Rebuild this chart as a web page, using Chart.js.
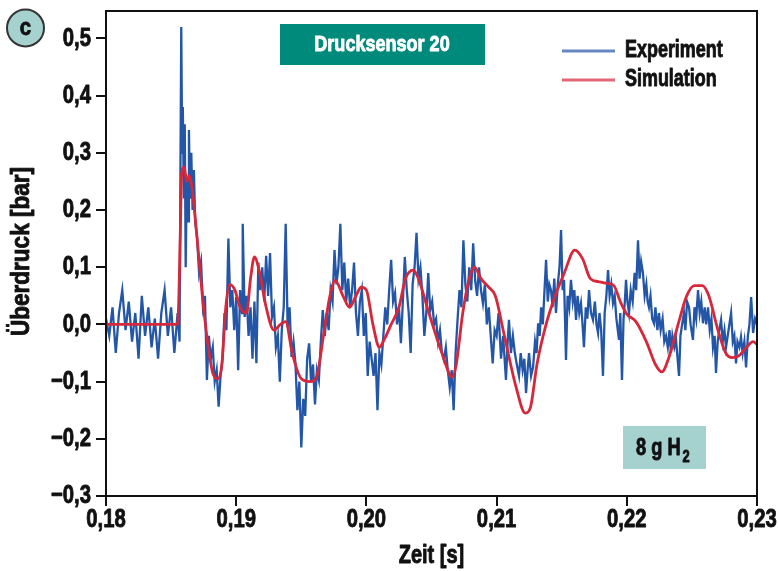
<!DOCTYPE html>
<html lang="de">
<head>
<meta charset="UTF-8">
<title>Drucksensor 20</title>
<script src="https://cdn.jsdelivr.net/npm/chart.js@4"></script>
<style>
  html, body { margin: 0; padding: 0; background: #fff; }
  #wrap { position: relative; width: 778px; height: 571px; }
</style>
</head>
<body>
<div id="wrap"><canvas id="chart"></canvas></div>
<script>
const FONT = '"Liberation Sans", Arial, sans-serif';

const xTicks = [0.18, 0.19, 0.20, 0.21, 0.22, 0.23];
const yTicks = [-0.3, -0.2, -0.1, 0, 0.1, 0.2, 0.3, 0.4, 0.5];
const seriesNames = ['Experiment', 'Simulation'];
const panelLabel = 'c';
const sensorLabel = 'Drucksensor 20';
const xTitle = 'Zeit [s]';
const yTitle = 'Überdruck [bar]';

// [time s, overpressure bar]
const experimentSamples = [
  [0.18,0.01],[0.18025,-0.02],[0.1805,0.03],[0.18075,-0.05],[0.181,0.02],[0.18125,0.06],[0.1815,-0.01],[0.18175,0.04],[0.182,-0.03],[0.18225,0.02],
  [0.1825,-0.06],[0.18275,0.05],[0.183,-0.02],[0.18325,0.03],[0.1835,-0.04],[0.18375,0.01],[0.184,-0.06],[0.18425,0.02],[0.1845,0.06],[0.18475,-0.02],
  [0.185,0.03],[0.18525,-0.05],[0.1855,0.02],[0.18565,-0.03],[0.1857,0.2],[0.18578,0.52],[0.18585,0.3],[0.1859,0.38],[0.18598,0.22],[0.18605,0.35],
  [0.18612,0.1],[0.1862,0.25],[0.1863,0.18],[0.18637,0.34],[0.18645,0.22],[0.18655,0.3],[0.18665,0.2],[0.18675,0.27],[0.18685,0.18],[0.187,0.15],
  [0.18715,0.09],[0.1873,0.11],[0.18745,0.03],[0.1876,0.05],[0.18775,-0.097],[0.1879,-0.02],[0.18805,-0.06],[0.1882,-0.04],[0.18835,-0.1],[0.1885,-0.08],
  [0.18865,-0.144],[0.1888,-0.09],[0.18895,-0.06],[0.1891,0.02],[0.18925,-0.01],[0.1894,0.15],[0.18955,0.03],[0.1897,0.06],[0.18985,-0.01],[0.19,0.048],
  [0.19015,-0.08],[0.1903,0.06],[0.19045,0.02],[0.1905,0.176],[0.19065,0.013],[0.1908,0.05],[0.19095,-0.02],[0.1911,0.03],[0.19125,-0.06],[0.1914,0.04],
  [0.19155,-0.068],[0.1917,0.108],[0.19185,0.06],[0.192,0.1],[0.19215,0.04],[0.1923,0.12],[0.19245,0.05],[0.1926,0.125],[0.19275,0.013],[0.1929,0.03],
  [0.19305,-0.04],[0.1932,-0.02],[0.19335,-0.1],[0.1935,-0.01],[0.19365,0.03],[0.1938,0.176],[0.19395,-0.005],[0.1941,0.03],[0.19425,-0.057],[0.1944,-0.03],
  [0.19455,-0.068],[0.1947,-0.15],[0.19485,-0.1],[0.195,-0.215],[0.19515,-0.13],[0.1953,-0.16],[0.19545,-0.06],[0.1956,-0.033],[0.19575,-0.1],[0.1959,-0.07],
  [0.19605,-0.14],[0.1962,-0.08],[0.19635,-0.097],[0.1965,-0.03],[0.19665,0.025],[0.1968,-0.02],[0.19695,0.02],[0.1971,-0.01],[0.19725,0.06],[0.1974,0.04],
  [0.19755,0.13],[0.1977,0.07],[0.19785,0.1],[0.198,0.176],[0.19815,0.06],[0.1983,0.108],[0.19845,0.04],[0.1986,0.08],[0.19875,0.03],[0.1989,0.06],
  [0.19905,0.108],[0.1992,0.02],[0.19935,-0.02],[0.1995,0.04],[0.19965,0.06],[0.1998,-0.02],[0.19995,0.02],[0.2001,-0.09],[0.20025,-0.03],[0.2004,-0.06],
  [0.20055,-0.09],[0.2007,-0.05],[0.20085,-0.15],[0.201,-0.05],[0.20115,-0.07],[0.2013,-0.02],[0.20145,0.03],[0.2016,0],[0.20175,0.06],[0.2019,0.113],
  [0.20205,0.04],[0.2022,0.055],[0.20235,0],[0.2025,0.03],[0.20265,-0.033],[0.2028,0.04],[0.20295,0.118],[0.2031,0.06],[0.20325,0.02],[0.2034,-0.05],
  [0.20355,0.07],[0.2037,0.1],[0.20385,0.16],[0.204,0.08],[0.20415,0.1],[0.2043,0.05],[0.20445,-0.02],[0.2046,0.02],[0.20475,0.09],[0.2049,0.025],
  [0.20505,0.04],[0.2052,0],[0.20535,0.01],[0.2055,-0.03],[0.20565,-0.01],[0.2058,-0.05],[0.20595,-0.062],[0.2061,-0.04],[0.20625,-0.08],[0.2064,-0.11],
  [0.20655,-0.08],[0.2067,-0.15],[0.20685,-0.05],[0.207,0.008],[0.20715,0.06],[0.2073,0.03],[0.20745,0.147],[0.2076,0.07],[0.20775,0.04],[0.2079,0.1],
  [0.20805,0.06],[0.2082,0.142],[0.20835,0.078],[0.2085,0.05],[0.20865,0.1],[0.2088,0.06],[0.20895,0.037],[0.2091,0.07],[0.20925,0],[0.2094,0.03],
  [0.20955,-0.02],[0.2097,-0.068],[0.20985,-0.01],[0.21,-0.02],[0.21015,0.02],[0.21034,-0.06],[0.2105,-0.02],[0.21072,-0.097],[0.21085,-0.03],[0.21095,0.008],
  [0.2111,-0.05],[0.21125,-0.02],[0.2114,-0.05],[0.21155,-0.07],[0.21172,-0.09],[0.21185,-0.05],[0.212,-0.08],[0.21213,-0.06],[0.21226,-0.12],[0.21238,-0.08],
  [0.21249,-0.05],[0.21265,-0.09],[0.2128,-0.075],[0.21295,-0.03],[0.21307,-0.05],[0.21319,0.002],[0.21331,-0.02],[0.21342,0.03],[0.21355,0],[0.21368,0.06],
  [0.2138,0.113],[0.21393,0.04],[0.21405,0.07],[0.21418,0.06],[0.2143,0.03],[0.21443,0.08],[0.21456,0.02],[0.2147,0.07],[0.21483,0.1],[0.21495,0.165],
  [0.21507,0.06],[0.21518,0.078],[0.21533,-0.062],[0.21545,0.05],[0.21558,0.03],[0.21571,0.078],[0.21585,0.04],[0.21597,0.06],[0.2161,0.008],[0.21622,0.05],
  [0.21635,0.02],[0.21648,0.037],[0.2166,0],[0.21671,-0.04],[0.21685,0.03],[0.21697,0.01],[0.2171,0.06],[0.21725,0.02],[0.2174,0.008],[0.21755,0.04],
  [0.21767,0],[0.21779,-0.015],[0.2179,0.02],[0.21803,-0.01],[0.21817,-0.09],[0.2183,0.02],[0.21843,0.05],[0.21856,0.095],[0.21868,0.05],[0.21881,0.07],
  [0.21894,0.037],[0.21907,0.05],[0.2192,0.01],[0.2194,-0.027],[0.2195,0.02],[0.21963,-0.097],[0.21975,0.01],[0.21985,0.04],[0.21994,0.078],[0.22005,0.04],
  [0.22017,0.02],[0.2203,0.06],[0.22045,0.04],[0.2206,0.09],[0.22072,0.06],[0.22086,0.147],[0.22098,0.08],[0.2211,0.11],[0.22124,0.09],[0.22137,0.05],
  [0.2215,0.07],[0.2216,0.04],[0.2217,0.03],[0.22182,0.05],[0.22195,0.01],[0.22209,0.002],[0.2222,0.03],[0.22235,-0.01],[0.22247,0.02],[0.2226,-0.01],
  [0.22275,0.01],[0.22288,-0.03],[0.22301,-0.02],[0.22315,-0.04],[0.22328,-0.01],[0.22339,-0.05],[0.2235,-0.02],[0.22365,-0.04],[0.22378,-0.027],[0.22401,-0.09],
  [0.22412,-0.02],[0.22425,0],[0.22439,0.02],[0.2245,-0.01],[0.22463,0.04],[0.22478,0.03],[0.2249,0],[0.22508,-0.027],[0.2252,0.03],[0.22533,0.01],
  [0.22547,0.06],[0.2256,0.02],[0.22572,0.04],[0.22585,0.002],[0.22598,0.03],[0.2261,0],[0.22624,0.03],[0.22637,-0.01],[0.2265,0.01],[0.22662,-0.04],
  [0.22675,-0.02],[0.22685,-0.085],[0.22698,-0.03],[0.2271,-0.01],[0.22724,0.008],[0.22737,-0.03],[0.2275,-0.01],[0.22762,-0.04],[0.22775,-0.02],[0.22788,0],
  [0.22801,0.02],[0.22814,-0.03],[0.22826,-0.02],[0.22839,-0.068],[0.2285,-0.03],[0.22865,-0.04],[0.22877,-0.022],[0.2289,-0.05],[0.22903,-0.03],[0.22916,-0.075],
  [0.2293,-0.02],[0.22942,0],[0.22955,0.048],[0.2297,-0.015],[0.22985,0.01],[0.23,0]
];

const simulationSamples = [
  [0.18,0],[0.1855,0],[0.1857,0.15],[0.1858,0.26],[0.186,0.275],[0.1862,0.25],[0.1864,0.26],[0.1866,0.24],[0.187,0.15],[0.1874,0.05],
  [0.1878,-0.03],[0.1882,-0.085],[0.1886,-0.095],[0.1889,-0.07],[0.1892,0.03],[0.1895,0.07],[0.1899,0.06],[0.1903,0.03],[0.1908,0.02],[0.1911,0.08],
  [0.1914,0.118],[0.1918,0.09],[0.1923,0.03],[0.1929,-0.01],[0.1934,0],[0.1938,0.005],[0.1943,-0.05],[0.195,-0.095],[0.1957,-0.1],[0.1962,-0.09],
  [0.1967,-0.02],[0.1972,0.05],[0.1976,0.077],[0.1982,0.05],[0.1987,0.03],[0.1992,0.05],[0.1996,0.065],[0.2,0.06],[0.2005,0],[0.201,-0.04],
  [0.2014,-0.025],[0.2019,0],[0.2025,0.03],[0.203,0.08],[0.2036,0.095],[0.204,0.08],[0.2048,0.02],[0.2058,-0.05],[0.2066,-0.092],[0.2069,-0.07],
  [0.2074,0.02],[0.2079,0.08],[0.2083,0.1],[0.2088,0.08],[0.2094,0.065],[0.2099,0.05],[0.2106,-0.02],[0.2115,-0.11],[0.2122,-0.155],[0.2126,-0.145],
  [0.2131,-0.07],[0.2138,0],[0.2145,0.05],[0.2152,0.09],[0.216,0.13],[0.2166,0.115],[0.2172,0.08],[0.2178,0.075],[0.2184,0.072],[0.219,0.068],
  [0.2195,0.04],[0.22,0.018],[0.2207,0.005],[0.2215,-0.03],[0.2222,-0.07],[0.2227,-0.083],[0.2232,-0.06],[0.224,0.005],[0.2246,0.05],[0.2252,0.068],
  [0.2258,0.068],[0.2263,0.05],[0.227,-0.01],[0.2276,-0.05],[0.2281,-0.058],[0.2286,-0.055],[0.2292,-0.04],[0.2297,-0.03],[0.23,-0.035]
];

const toPoints = (samples) => samples.map(([x, y]) => ({ x, y }));
const germanNumber = (value, digits) => {
  const text = Math.abs(value).toFixed(digits).replace('.', ',');
  return value < -1e-9 ? '\u2212' + text : text;
};

// the reference uses a heavy condensed face; squeeze Liberation Sans Bold sideways and thicken it
const narrowText = (ctx, text, x, y, opts) => {
  const { size, squeeze = 0.8, align = 'left', baseline = 'middle', color = '#111', rotate = 0 } = opts;
  ctx.save();
  ctx.translate(x, y);
  if (rotate) ctx.rotate(rotate);
  ctx.scale(squeeze, 1);
  ctx.font = 'bold ' + size + 'px ' + FONT;
  ctx.fillStyle = color;
  ctx.strokeStyle = color;
  ctx.lineWidth = 0.9;
  ctx.lineJoin = 'round';
  ctx.textAlign = align;
  ctx.textBaseline = baseline;
  ctx.fillText(text, 0, 0);
  ctx.strokeText(text, 0, 0);
  const width = ctx.measureText(text).width * squeeze;
  ctx.restore();
  return width;
};

const decorations = {
  id: 'decorations',
  afterDraw(chart) {
    const { ctx, chartArea: area } = chart;
    const xScale = chart.scales.x;
    const yScale = chart.scales.y;
    ctx.save();

    // frame round the plot
    ctx.strokeStyle = '#111';
    ctx.lineWidth = 2;
    ctx.strokeRect(area.left, area.top, area.right - area.left, area.bottom - area.top);

    // tick labels and axis titles
    xScale.ticks.forEach((tick) => {
      narrowText(ctx, germanNumber(tick.value, 2), xScale.getPixelForValue(tick.value), area.bottom + 24,
        { size: 26, squeeze: 0.78, align: 'center' });
    });
    yScale.ticks.forEach((tick) => {
      narrowText(ctx, germanNumber(tick.value, 1), area.left - 15, yScale.getPixelForValue(tick.value),
        { size: 26, squeeze: 0.78, align: 'right' });
    });
    narrowText(ctx, xTitle, (area.left + area.right) / 2, 556, { size: 25, squeeze: 0.8, align: 'center' });
    narrowText(ctx, yTitle, 22, (area.top + area.bottom) / 2 - 2,
      { size: 25, squeeze: 0.9, align: 'center', rotate: -Math.PI / 2 });

    // sensor label box
    ctx.fillStyle = '#008a7c';
    ctx.fillRect(280, 24, 205, 41);
    narrowText(ctx, sensorLabel, 382, 45, { size: 22, squeeze: 0.82, align: 'center', color: '#ffffff' });

    // legend
    const legendRows = [51, 80];
    seriesNames.forEach((name, i) => {
      const ds = chart.data.datasets.find((d) => d.label === name);
      const y = legendRows[i];
      ctx.strokeStyle = ds.borderColor;
      ctx.globalAlpha = 0.7;
      ctx.lineWidth = 3;
      ctx.beginPath();
      ctx.moveTo(562, y);
      ctx.lineTo(615, y);
      ctx.stroke();
      ctx.globalAlpha = 1;
      narrowText(ctx, ds.label, 625, y, { size: 23, squeeze: 0.78 });
    });

    // mass box
    ctx.fillStyle = '#a5d1ce';
    ctx.fillRect(623, 426, 83, 43);
    const w = narrowText(ctx, '8 g H', 636, 455, { size: 24, squeeze: 0.76, baseline: 'alphabetic' });
    narrowText(ctx, '2', 636 + w + 2, 462, { size: 17, squeeze: 0.76, baseline: 'alphabetic' });

    // panel letter
    ctx.beginPath();
    ctx.arc(25.5, 28, 18.5, 0, Math.PI * 2);
    ctx.fillStyle = '#a5d1ce';
    ctx.fill();
    ctx.lineWidth = 2;
    ctx.strokeStyle = '#333';
    ctx.stroke();
    narrowText(ctx, panelLabel, 25.5, 28, { size: 24, squeeze: 0.85, align: 'center' });

    ctx.restore();
  }
};

new Chart(document.getElementById('chart'), {
  type: 'line',
  data: {
    datasets: [
      {
        label: seriesNames[1],
        data: toPoints(simulationSamples),
        borderColor: '#d6283a',
        borderWidth: 2.8,
        pointRadius: 0,
        cubicInterpolationMode: 'monotone',
        order: 0
      },
      {
        label: seriesNames[0],
        data: toPoints(experimentSamples),
        borderColor: '#2456a8',
        borderWidth: 2.3,
        pointRadius: 0,
        tension: 0,
        order: 1
      }
    ]
  },
  options: {
    responsive: true,
    maintainAspectRatio: false,
    animation: false,
    layout: { padding: { left: 0, top: 11, right: 21, bottom: 0 } },
    plugins: { legend: { display: false }, tooltip: { enabled: false } },
    scales: {
      x: {
        type: 'linear',
        min: 0.18,
        max: 0.23,
        afterBuildTicks: (scale) => { scale.ticks = xTicks.map((value) => ({ value })); },
        afterFit: (scale) => { scale.height = 75; scale.paddingLeft = 0; scale.paddingRight = 0; },
        ticks: {
          callback: (value) => germanNumber(value, 2),
          color: 'rgba(0,0,0,0)',
          font: { family: FONT, size: 20, weight: 'bold' },
          padding: 4,
          maxRotation: 0
        },
        grid: { drawOnChartArea: false, color: '#111', lineWidth: 2, tickLength: 10 },
        border: { color: '#111', width: 2 }
      },
      y: {
        type: 'linear',
        min: -0.3,
        max: 0.548,
        afterBuildTicks: (scale) => { scale.ticks = yTicks.map((value) => ({ value })); },
        afterFit: (scale) => { scale.width = 106; scale.paddingTop = 0; scale.paddingBottom = 0; },
        ticks: {
          callback: (value) => germanNumber(value, 1),
          color: 'rgba(0,0,0,0)',
          font: { family: FONT, size: 20, weight: 'bold' },
          padding: 5
        },
        grid: { drawOnChartArea: false, color: '#111', lineWidth: 2, tickLength: 10 },
        border: { color: '#111', width: 2 }
      }
    }
  },
  plugins: [decorations]
});
</script>
</body>
</html>
